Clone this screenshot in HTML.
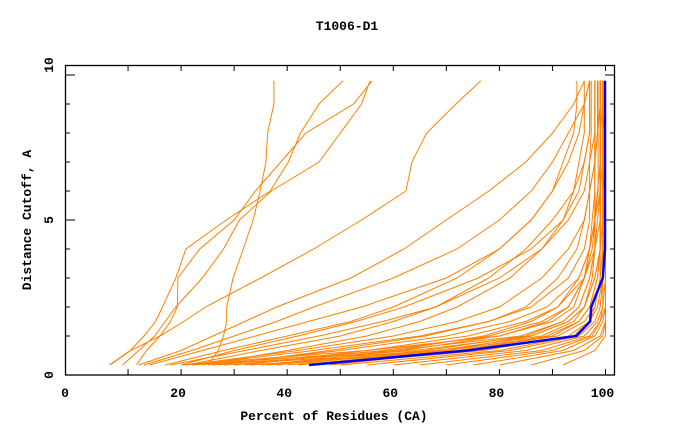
<!DOCTYPE html>
<html><head><meta charset="utf-8"><style>
body{margin:0;background:#fff}
svg text{font-family:"Liberation Mono",monospace;font-weight:bold;fill:#000}
</style></head><body>
<svg id="chart" width="680" height="440" viewBox="0 0 680 440" xmlns="http://www.w3.org/2000/svg">
<rect x="0" y="0" width="680" height="440" fill="#fff"/>
<text x="347" y="30" font-size="13" text-anchor="middle">T1006-D1</text>
<text x="334" y="420" font-size="13" text-anchor="middle">Percent of Residues (CA)</text>
<text x="0" y="0" font-size="13" text-anchor="middle" transform="translate(31,220) rotate(-90)">Distance Cutoff, A</text>
<g id="series"></g>
<g id="axes"></g>
</svg>
<script>
const levels = [0,0.5,1,1.5,2,3,4,5,6,7,8,9,9.8];
const xTickLabels = ["0","20","40","60","80","100"];
const xTickLabelValues = [0,20,40,60,80,100];
const yTickLabels = ["0","5","10"];
const yTickLabelValues = [0,5,10];
const orangeSeries = [
 [25,27,28,28.6,28.6,29.8,31.7,33.6,34.9,36,36.3,37.5,37.5],
 [6.5,10.4,13,15.2,16.5,19,20.9,28.5,36.8,40.2,42.5,46,50.5],
 [11.6,13.5,16,18,19.3,19.4,23.5,30,34,38.8,43.5,52.5,56],
 [9,12,15,17,19,24,28,31,37,46,50,54,55.6],
 [6.6,10.5,16,20.5,24.6,35,45,54,62.4,63.5,66.3,71.8,76.5],
 [17,28,40,52,60,72,80,86,90,93,95,96,97],
 [21,35,50,60,68,78,85,90,94,96,97,97,97],
 [13,22,30,38,45,60,72,80,86,90,93,96,97],
 [12,20,26,32,38,52,62,70,78,85,90,94,96],
 [20,30,42,53,62,76,86,92,95,96,97,97,97],
 [24,40,55,65,72,82,88,92,94,95,96,96,96],
 [14,24,34,44,54,70,80,86,90,92,94,94.6,94.6],
 [18,32,46,58,68,80,88,93,96,97,98,98,98],
 [20,55,80,90,94,96,97,97.5,98,98,98.5,99,99],
 [22,60,84,92,95,97,98,98,98.5,99,99,99.5,99.5],
 [25,64,86,93,96,98,99,99,99,99.5,99.5,100,100],
 [28,68,88,94,96,97.5,98,98.5,99,99,99,99,99],
 [30,58,78,88,93,96,97,98,98,98,98.5,98.5,98.5],
 [33,70,90,95,97,98.5,99,99.5,99.5,100,100,100,100],
 [36,72,91,96,98,99,99.5,99.5,99.5,99.5,99.5,99.5,99.5],
 [40,66,85,92,95,97,98,98,98,98,98,98,98],
 [45,77,93,97,98.5,99.5,100,100,100,100,100,100,100],
 [50,80,94,97,98,99,99,99,99,99,99,99,99],
 [55,82,95,98,99,99.5,99.5,99.5,99.5,99.5,99.5,99.5,99.5],
 [60,85,96,98.5,99.5,100,100,100,100,100,100,100,100],
 [65,88,97,99,99.5,99.5,99.5,99.5,99.5,99.5,99.5,99.5,99.5],
 [70,90,97.5,99,100,100,100,100,100,100,100,100,100],
 [75,92,98,99.5,100,100,100,100,100,100,100,100,100],
 [80,94,99,100,100,100,100,100,100,100,100,100,100],
 [86,96,99.5,100,100,100,100,100,100,100,100,100,100],
 [92,98,100,100,100,100,100,100,100,100,100,100,100],
 [22,45,65,78,86,93,96,97,97,97,97.3,97.3,97.3],
 [26,50,70,82,89,95,97,98,98.6,98.6,98.6,98.6,98.6],
 [32,55,74,85,91,96,98,99,99,99,99,99,99],
 [21,42,60,72,80,88,93,96,97,98,98,98,98],
 [35,62,80,89,93,96,97.5,98,98,98,98,98,98],
 [42,70,86,93,96,98,99,99,99,99,99,99,99],
 [48,74,89,95,97,98.5,99,99,99,99,99,99,99],
 [27,48,66,78,85,91,94.6,96,97,98,98,98,98],
 [38,60,77,86,91,95,97,98,99,99,99,99,99]
];
const blueSeries = [44.1,74,94.5,97.1,97.3,99.5,99.9,99.9,99.9,99.9,99.9,99.9,99.9];

const X0=75, XS=5.305, Y0=365, YS=29;
const sx = v => X0 + v*XS;
const sy = v => Y0 - v*YS;
const NS="http://www.w3.org/2000/svg";
const series=document.getElementById('series');
const axes=document.getElementById('axes');

orangeSeries.forEach((vals,i)=>{
  const pl=document.createElementNS(NS,'polyline');
  pl.setAttribute('points', vals.map((v,j)=>sx(v).toFixed(1)+','+sy(levels[j]).toFixed(1)).join(' '));
  pl.setAttribute('fill','none');
  pl.setAttribute('stroke','#ff8000');
  pl.setAttribute('stroke-width','1');
  
  
  series.appendChild(pl);
});
const bl=document.createElementNS(NS,'polyline');
bl.setAttribute('points', blueSeries.map((v,j)=>sx(v).toFixed(1)+','+sy(levels[j]).toFixed(1)).join(' '));
bl.setAttribute('fill','none');
bl.setAttribute('stroke','#0000ff');
bl.setAttribute('stroke-width','2.5');


series.appendChild(bl);

function ln(x1,y1,x2,y2,w){
  const l=document.createElementNS(NS,'line');
  l.setAttribute('x1',x1);l.setAttribute('y1',y1);l.setAttribute('x2',x2);l.setAttribute('y2',y2);
  l.setAttribute('stroke','#000');l.setAttribute('stroke-width',w||1);
  
  
  axes.appendChild(l);
}
const frame=document.createElementNS(NS,'rect');
frame.setAttribute('x',65.5);frame.setAttribute('y',65.5);frame.setAttribute('width',549);frame.setAttribute('height',309.5);
frame.setAttribute('fill','none');frame.setAttribute('stroke','#000');frame.setAttribute('stroke-width','1.3');


axes.appendChild(frame);
for(let v=10;v<=100;v+=10){
  const x=sx(v);
  ln(x,375,x,369);ln(x,65,x,71);
}
for(let v=1;v<=10;v++){
  const y=sy(v);const L=(v%5===0)?10:5;
  ln(65,y,65+L,y);ln(615,y,615-L,y);
}
xTickLabels.forEach((t,i)=>{
  const tx=document.createElementNS(NS,'text');
  const v=xTickLabelValues[i];
  tx.setAttribute('x', v===0?65:sx(v)-3);
  tx.setAttribute('y',397);
  tx.setAttribute('font-size','13');
  tx.setAttribute('text-anchor','middle');
  tx.textContent=t;
  
  
  axes.appendChild(tx);
});
yTickLabels.forEach((t,i)=>{
  const v=yTickLabelValues[i];
  const y = v===0?375:(v===10?65:sy(v));
  const tx=document.createElementNS(NS,'text');
  tx.setAttribute('transform','translate(53,'+y+') rotate(-90)');
  tx.setAttribute('font-size','13');
  tx.setAttribute('text-anchor','middle');
  tx.textContent=t;
  
  
  axes.appendChild(tx);
});
</script>
</body></html>
